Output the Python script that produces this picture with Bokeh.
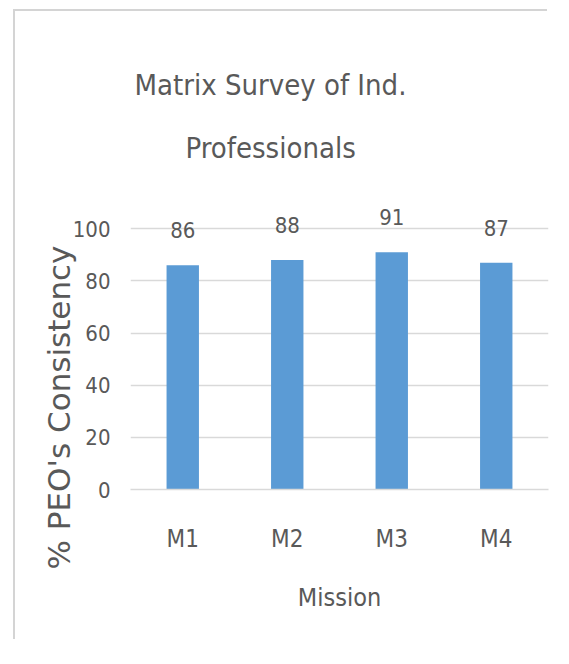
from bokeh.plotting import figure
from bokeh.models import ColumnDataSource, LabelSet, Range1d, FixedTicker, Title
from bokeh.core.properties import value
from bokeh.embed import file_html
from bokeh.resources import INLINE

categories = ["M1", "M2", "M3", "M4"]
values = [86, 88, 91, 87]
y_ticks = [0, 20, 40, 60, 80, 100]
title_lines = ["Matrix Survey of Ind.", "Professionals"]
x_title = "Mission"
y_title = "% PEO's Consistency"

FONT = "'DejaVu Sans Condensed', 'Liberation Sans Narrow', sans-serif"
TEXT = "#595959"
GRID = "#d9d9d9"
BAR = "#5b9bd5"
EDGE = "#d4d4d4"

xpos = [i + 0.5 for i in range(len(categories))]
source = ColumnDataSource(dict(x=xpos, val=values, label=[str(v) for v in values]))

p = figure(width=554, height=650,
           x_range=Range1d(0, len(categories)),
           y_range=Range1d(0, 112),
           output_backend="svg", toolbar_location=None,
           min_border_left=115, min_border_right=21,
           min_border_top=186, min_border_bottom=172,
           margin=(11, 0, 0, 15),
           styles={"box-shadow": f"-12px -12px 0 -10px {EDGE}"})
p.title = None
p.outline_line_color = None
p.background_fill_color = "white"
p.border_fill_color = "white"

p.vbar(x="x", top="val", width=0.31, source=source, fill_color=BAR, line_color=None)

p.add_layout(LabelSet(x="x", y="val", text="label", source=source, y_offset=27,
                      text_align="center", text_baseline="alphabetic",
                      text_font=value(FONT), text_font_size="22px", text_color=TEXT))

# axes
p.xgrid.grid_line_color = None
p.ygrid.grid_line_color = GRID
p.ygrid.grid_line_width = 1.5
p.yaxis.ticker = FixedTicker(ticks=y_ticks)
p.yaxis.axis_line_color = None
p.yaxis.major_tick_line_color = None
p.yaxis.minor_tick_line_color = None
p.yaxis.major_tick_out = 0
p.yaxis.major_label_standoff = 20
p.yaxis.major_label_text_font = FONT
p.yaxis.major_label_text_font_size = "22px"
p.yaxis.major_label_text_color = TEXT

p.xaxis.ticker = FixedTicker(ticks=xpos)
p.xaxis.major_label_overrides = {x: c for x, c in zip(xpos, categories)}
p.xaxis.axis_line_color = GRID
p.xaxis.axis_line_width = 1.5
p.xaxis.major_tick_line_color = None
p.xaxis.minor_tick_line_color = None
p.xaxis.major_tick_out = 0
p.xaxis.major_label_standoff = 35
p.xaxis.major_label_text_font = FONT
p.xaxis.major_label_text_font_size = "24px"
p.xaxis.major_label_text_color = TEXT
p.xaxis.axis_label = x_title
p.xaxis.axis_label_standoff = 27
p.xaxis.axis_label_text_font = FONT
p.xaxis.axis_label_text_font_size = "25px"
p.xaxis.axis_label_text_font_style = "normal"
p.xaxis.axis_label_text_color = TEXT

# y axis title as a left-side title (offset so it sits lower, like the reference)
p.add_layout(Title(text=y_title, align="left", offset=-80, standoff=-14,
                   text_font="DejaVu Sans", text_font_size="31px",
                   text_font_style="normal", text_color=TEXT), "left")

# chart title: two lines, first added sits closest to the frame
p.add_layout(Title(text=title_lines[1], align="left", offset=55, standoff=66,
                   text_font=FONT, text_font_size="29px", text_font_style="normal",
                   text_color=TEXT), "above")
p.add_layout(Title(text=title_lines[0], align="left", offset=4, standoff=-12,
                   text_font=FONT, text_font_size="29px", text_font_style="normal",
                   text_color=TEXT), "above")

open("out.html", "w").write(file_html(p, INLINE))
